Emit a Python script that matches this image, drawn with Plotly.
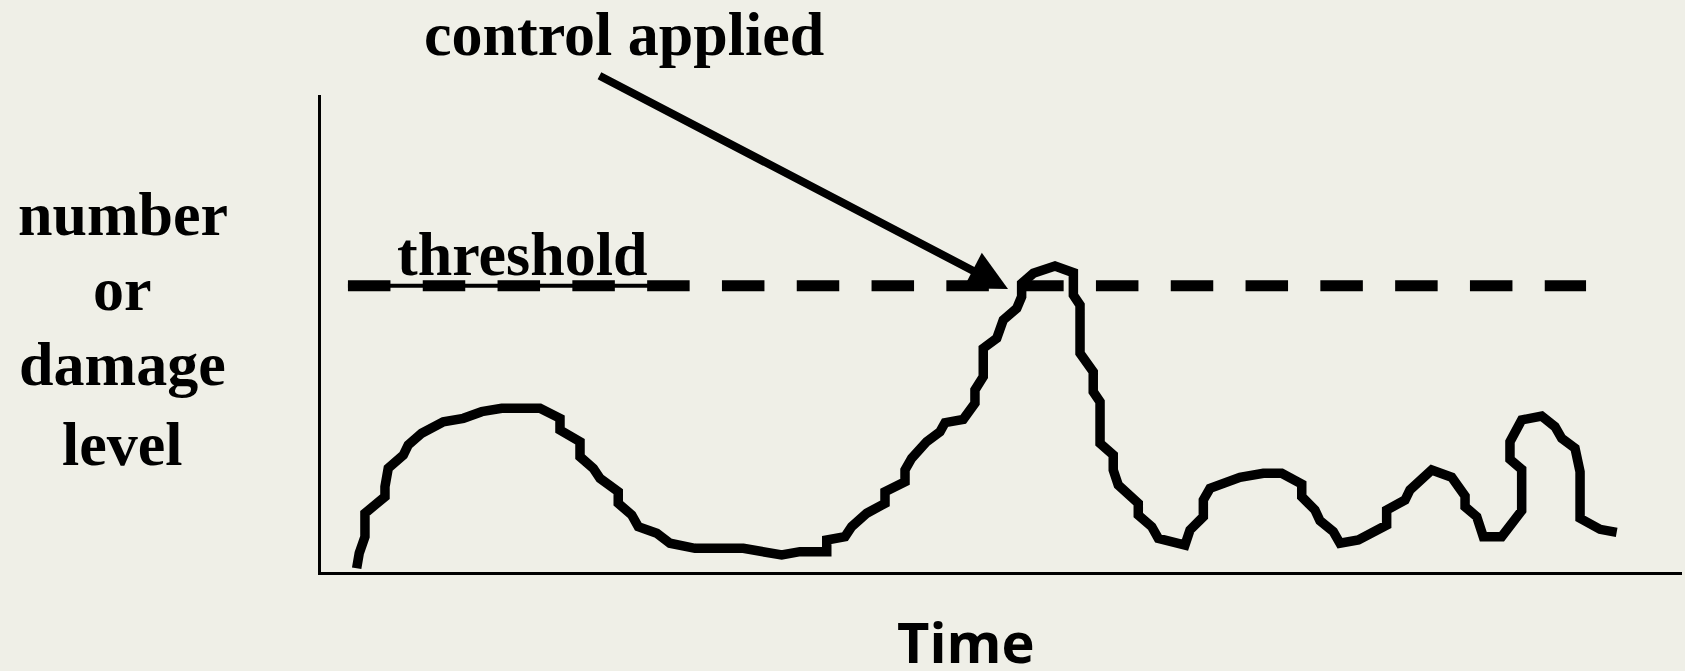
import plotly.graph_objects as go

# Curve (time in % of axis length, level in % of axis height)
time_vals = [2.62, 2.67, 2.81, 3.23, 3.23, 4.70, 4.70, 4.94, 6.05, 6.41, 7.40, 8.99, 10.46, 11.81, 13.28,
             16.09, 17.56, 17.56, 19.03, 19.03, 20.01, 20.50, 21.84, 21.84, 22.83, 23.31, 24.67, 25.64,
             27.48, 31.03, 33.85, 35.19, 37.16, 37.16, 38.50, 38.99, 40.10, 41.44, 41.44, 42.91, 42.91,
             43.40, 44.50, 45.48, 45.85, 47.19, 48.05, 48.05, 48.66, 48.66, 49.65, 50.13, 51.12, 51.48,
             51.48, 52.34, 53.93, 55.28, 55.28, 55.77, 55.77, 56.74, 56.74, 57.24, 57.24, 58.21, 58.21,
             58.58, 60.05, 60.05, 61.04, 61.52, 63.48, 63.85, 64.83, 64.83, 65.32, 67.52, 69.24, 70.59,
             72.06, 72.06, 73.03, 73.40, 74.38, 74.87, 76.22, 78.30, 78.30, 79.65, 80.01, 81.61, 83.08,
             84.06, 84.06, 84.92, 85.40, 86.75, 87.73, 88.22, 88.22, 87.36, 87.36, 88.22, 89.69, 90.67,
             91.16, 92.14, 92.51, 92.51, 93.98, 95.20]
level_vals = [0.78, 2.16, 3.92, 7.40, 12.31, 15.79, 17.88, 21.74, 24.53, 26.62, 29.08, 31.51, 32.22, 33.61,
              34.32, 34.32, 32.22, 29.77, 27.32, 24.17, 21.74, 19.64, 16.83, 14.40, 11.95, 9.50, 8.11, 6.02,
              4.97, 4.97, 3.56, 4.26, 4.26, 6.71, 7.40, 9.50, 12.31, 14.40, 16.83, 18.93, 21.38, 23.84,
              27.32, 29.41, 31.30, 32.01, 35.37, 38.16, 40.94, 46.90, 48.99, 52.83, 55.28, 57.72, 60.52,
              62.62, 64.15, 62.75, 58.07, 55.97, 45.85, 41.99, 37.80, 35.70, 26.98, 24.53, 21.38, 18.24,
              14.40, 11.95, 9.50, 7.06, 5.66, 8.81, 11.59, 15.09, 17.55, 19.85, 20.69, 20.69, 18.45, 15.79,
              13.00, 10.75, 8.45, 6.02, 6.71, 9.85, 13.00, 15.09, 17.19, 21.38, 19.85, 15.93, 13.69, 11.59,
              7.40, 7.40, 10.55, 12.85, 21.53, 23.63, 27.32, 31.87, 32.70, 30.46, 28.03, 25.93, 21.03,
              11.26, 8.95, 8.32]

threshold_level = 60.0
threshold_span = [1.98, 92.95]
underline_span = [1.98, 24.03]
arrow_tail = (20.35, 104.2)
arrow_head = (50.48, 59.33)

title_text = "control applied"
threshold_text = "threshold"
ylabel_lines = ["number", "or", "damage", "level"]
xlabel_text = "Time"

bg = "#EFEFE7"
serif = "Liberation Serif"

fig = go.Figure()

# threshold underline (thin solid)
fig.add_trace(go.Scatter(x=underline_span, y=[threshold_level, threshold_level], mode="lines",
                         line=dict(color="black", width=4), hoverinfo="skip"))
# threshold dashed line
fig.add_trace(go.Scatter(x=threshold_span, y=[threshold_level, threshold_level], mode="lines",
                         line=dict(color="black", width=11, dash="42.5px,32.3px"), hoverinfo="skip"))
# pest curve
fig.add_trace(go.Scatter(x=time_vals, y=level_vals, mode="lines",
                         line=dict(color="black", width=9.5), hoverinfo="skip"))

anns = []
anns.append(dict(x=arrow_head[0], y=arrow_head[1], xref="x", yref="y",
                 ax=arrow_tail[0], ay=arrow_tail[1], axref="x", ayref="y",
                 showarrow=True, arrowhead=2, arrowsize=1.0, arrowwidth=8, arrowcolor="black", text=""))
anns.append(dict(x=0.2228, y=1.1277, xref="paper", yref="paper", text="<b>%s</b>" % title_text,
                 showarrow=False, xanchor="center", yanchor="middle",
                 font=dict(family=serif, size=62, color="black")))
anns.append(dict(x=0.1475, y=0.6665, xref="paper", yref="paper", text="<b>%s</b>" % threshold_text,
                 showarrow=False, xanchor="center", yanchor="middle",
                 font=dict(family=serif, size=62, color="black")))
for txt, yy in zip(ylabel_lines, [0.7503, 0.5931, 0.4358, 0.2681]):
    anns.append(dict(x=-0.1455, y=yy, xref="paper", yref="paper", text="<b>%s</b>" % txt,
                     showarrow=False, xanchor="center", yanchor="middle",
                     font=dict(family=serif, size=62, color="black")))
anns.append(dict(x=0.4739, y=-0.1440, xref="paper", yref="paper", text="<b>%s</b>" % xlabel_text,
                 showarrow=False, xanchor="center", yanchor="middle",
                 font=dict(family="Open Sans", size=56, color="black")))

fig.update_layout(
    width=1685, height=671,
    margin=dict(l=321, r=3, t=95, b=99),
    paper_bgcolor=bg, plot_bgcolor=bg,
    showlegend=False,
    annotations=anns,
    xaxis=dict(range=[0, 100], showline=True, linecolor="black", linewidth=3, showgrid=False,
               zeroline=False, showticklabels=False, ticks=""),
    yaxis=dict(range=[0, 100], showline=True, linecolor="black", linewidth=3, showgrid=False,
               zeroline=False, showticklabels=False, ticks=""),
)

fig.write_html("out.html",
               config={"displayModeBar": False},
               post_script="document.body.style.margin='0';document.body.style.padding='0';"
                           "document.body.style.overflow='hidden';")
